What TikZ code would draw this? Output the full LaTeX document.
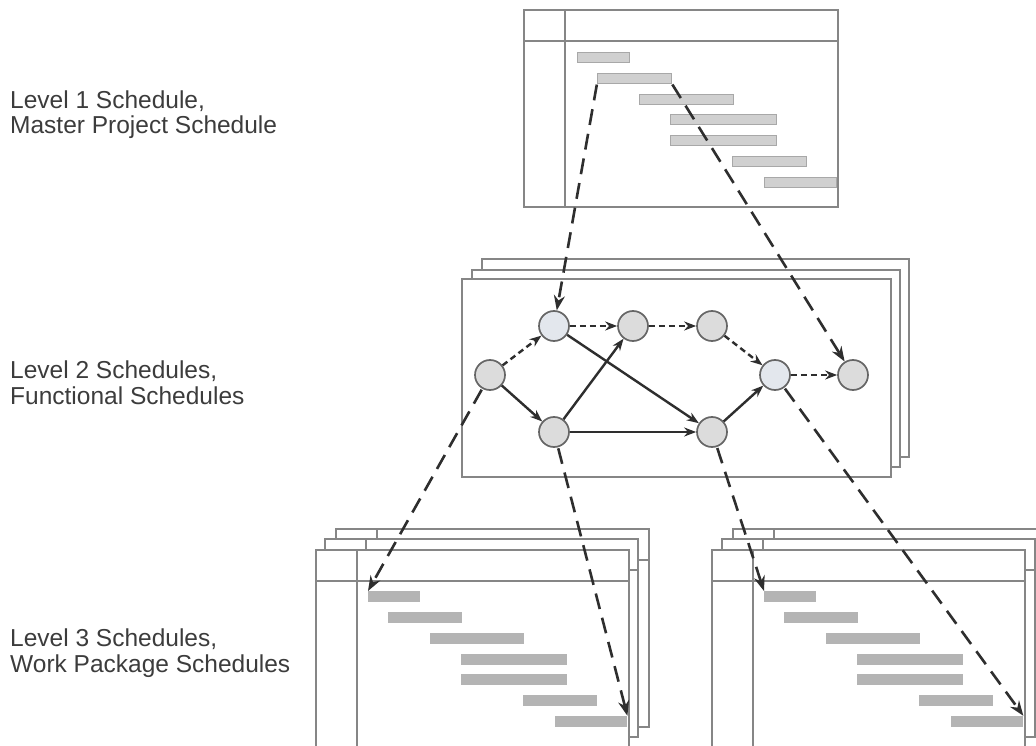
\documentclass[tikz,border=0pt]{standalone}
\usepackage{fontspec}
\setmainfont{Liberation Sans}
\usetikzlibrary{arrows.meta}

\definecolor{framegray}{HTML}{868686}
\definecolor{inkgray}{HTML}{2E2E2E}
\definecolor{labelgray}{HTML}{3C3C3C}
\definecolor{barlight}{HTML}{D0D0D0}
\definecolor{barlightedge}{HTML}{A8A8A8}
\definecolor{bardark}{HTML}{B4B4B4}
\definecolor{nodefill}{HTML}{DCDCDC}
\definecolor{nodeblue}{HTML}{E3E7ED}
\definecolor{nodeedge}{HTML}{666666}

\tikzset{
  sheet/.style={draw=framegray, line width=2.2pt, fill=white},
  sheetline/.style={draw=framegray, line width=1.7pt},
  topbar/.style={rectangle, inner sep=0pt, minimum height=10pt, fill=barlight, draw=barlightedge, line width=0.8pt},
  lowbar/.style={rectangle, inner sep=0pt, minimum height=11pt, fill=bardark},
  event/.style={circle, inner sep=0pt, minimum size=30pt, fill=nodefill, draw=nodeedge, line width=1.7pt},
  eventb/.style={event, fill=nodeblue},
  tie/.style={draw=inkgray, line width=2.4pt, -{Stealth[length=12pt,width=9pt]}},
  tiedash/.style={tie, dash pattern=on 6pt off 4pt},
  link/.style={draw=inkgray, line width=2.6pt, dash pattern=on 16pt off 9pt,
    -{Stealth[length=15pt,width=11pt]}, shorten <=1pt},
  level/.style={anchor=base west, inner sep=0pt, align=left, text=labelgray,
    font=\fontsize{24.5}{25.5}\selectfont},
}

% one schedule sheet: rectangle, task column divider and header rule
\newcommand\schedsheet[5]{% x, y, width, height, line width
  \draw[sheet, line width=#5] (#1,#2) rectangle ++(#3,#4);
  \draw[sheetline] ({#1+41},#2) -- ({#1+41},{#2+#4});
  \draw[sheetline] (#1,{#2+31}) -- ({#1+#3},{#2+31});
}

% seven Gantt bars below the header, named <prefix>1 ... <prefix>7
\newcommand\ganttbars[4]{% prefix, divider x, header y, bar style
  \foreach \dx/\w [count=\i] in {11/52,31/74,73/94,104/106,104/106,166/74,198/72}{
    \node[#4, minimum width=\w pt, anchor=north west] (#1\i)
      at ({#2+\dx},{#3+10+20.8*(\i-1)}) {};
  }
}

\begin{document}
\begin{tikzpicture}[x=1pt,y=-1pt]
\useasboundingbox (0,0) rectangle (1036,746);
\clip (0,0) rectangle (1036,746);

% level labels (anchored on the baseline of the last line)
\node[level] (lab1) at (10,134) {Level 1 Schedule,\\Master Project Schedule};
\node[level] (lab2) at (10,404) {Level 2 Schedules,\\Functional Schedules};
\node[level] (lab3) at (10,672) {Level 3 Schedules,\\Work Package Schedules};

% level 1: master schedule
\schedsheet{524}{10}{314}{197}{2.8pt}
\ganttbars{t}{566}{42}{topbar}

% level 2: stacked network sheets
\draw[sheet] (482,259) rectangle (909,457);
\draw[sheet] (472,270) rectangle (900,467);
\draw[sheet] (462,279) rectangle (891,477);

\node[event]  (a) at (490,375) {};
\node[eventb] (b) at (554,326) {};
\node[event]  (c) at (633,326) {};
\node[event]  (d) at (712,326) {};
\node[eventb] (e) at (775,375) {};
\node[event]  (f) at (853,375) {};
\node[event]  (g) at (554,432) {};
\node[event]  (h) at (712,432) {};

\draw[tiedash] (a) -- (b);
\draw[tiedash] (b) -- (c);
\draw[tiedash] (c) -- (d);
\draw[tiedash] (d) -- (e);
\draw[tiedash] (e) -- (f);
\draw[tie] (a) -- (g);
\draw[tie] (g) -- (c);
\draw[tie] (b) -- (h);
\draw[tie] (g) -- (h);
\draw[tie] (h) -- (e);

% level 3: two stacks of work package schedules
\schedsheet{336}{529}{313}{198}{2.2pt}
\schedsheet{325}{539}{313}{198}{2.2pt}
\schedsheet{316}{550}{313}{198}{2.2pt}
\ganttbars{l}{357}{581}{lowbar}

\schedsheet{733}{529}{313}{198}{2.2pt}
\schedsheet{722}{539}{313}{198}{2.2pt}
\schedsheet{712}{550}{313}{198}{2.2pt}
\ganttbars{r}{753}{581}{lowbar}

% roll-down links between levels
\draw[link] (t2.south west) -- (b);
\draw[link] (t2.south east) -- (f);
\draw[link] (a) -- (l1.north west);
\draw[link] (g) -- (l7.north east);
\draw[link] (h) -- (r1.north west);
\draw[link] (e) -- (r7.north east);
\end{tikzpicture}
\end{document}
